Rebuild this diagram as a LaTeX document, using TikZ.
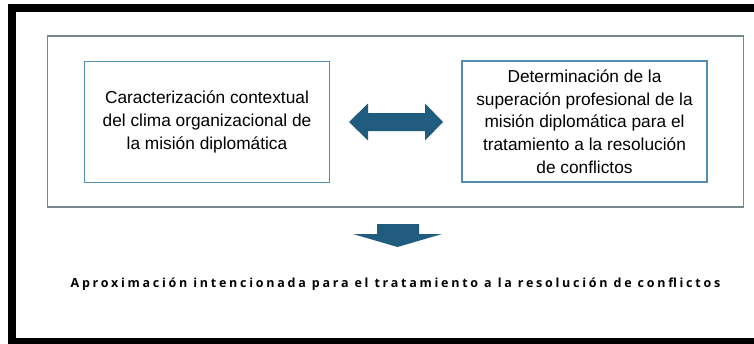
\documentclass[tikz,border=0pt]{standalone}
\usepackage{fontspec}
\setmainfont{Liberation Sans}
\newfontfamily\bottomfont[LetterSpace=22]{Open Sans}
\definecolor{arrowblue}{RGB}{31,92,126}
\definecolor{boxline}{RGB}{84,141,178}
\definecolor{outerline}{RGB}{120,134,142}
\tikzset{
  outerbox/.style={draw=outerline, line width=1.3pt, inner sep=0pt, minimum width=696pt, minimum height=171pt},
  stepbox/.style={draw=boxline, line width=1.1pt, inner sep=0pt, minimum width=245pt, minimum height=121pt, align=center, font=\fontsize{17.3}{22.7}\selectfont},
  bigarrow/.style={fill=arrowblue, draw=none}
}
\begin{document}
\begin{tikzpicture}[x=1pt, y=-1pt]
\useasboundingbox (0,0) rectangle (754,343);
\fill[white] (0,0) rectangle (754,343);
% black frame
\draw[line width=8pt] (770,8) -- (12,8) -- (12,342) -- (770,342);
% outer box
\node[outerbox] (outer) at (395.5,121.5) {};
% inner boxes
\node[stepbox] (left) at (207,122) {Caracterización contextual\\del clima organizacional de\\la misión diplomática};
\node[stepbox] (right) at (584.5,121.5) {Determinación de la\\superación profesional de la\\misión diplomática para el\\tratamiento a la resolución\\de conflictos};
% double arrow
\fill[bigarrow] (349,122) -- (368,103.5) -- (368,113) -- (425,113) -- (425,103.5) -- (443,122) -- (425,140.5) -- (425,131) -- (368,131) -- (368,140.5) -- cycle;
% down arrow
\fill[bigarrow] (377,224) -- (419,224) -- (419,234) -- (442,234) -- (397.5,247) -- (353,234) -- (377,234) -- cycle;
% bottom text
\node[font=\bottomfont\bfseries\fontsize{12.5}{14}\selectfont, inner sep=0pt] (result) at (395.5,284.5) {Aproximación intencionada para el tratamiento a la resolución de conflictos};
\end{tikzpicture}
\end{document}
